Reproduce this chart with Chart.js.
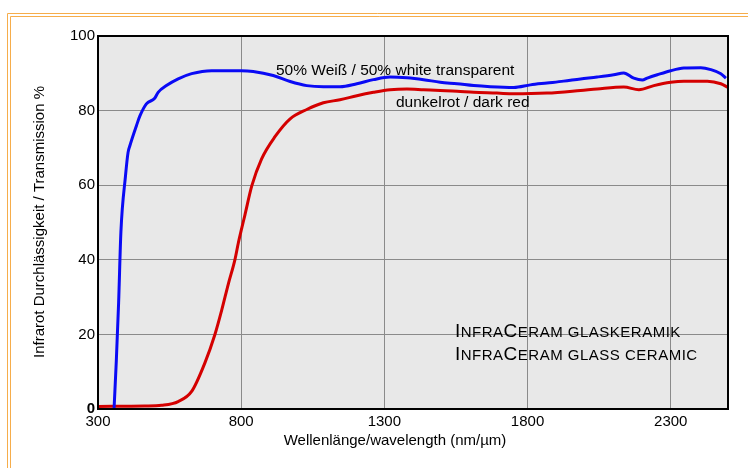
<!DOCTYPE html>
<html>
<head>
<meta charset="utf-8">
<script src="https://cdn.jsdelivr.net/npm/chart.js@4.4.1/dist/chart.umd.min.js"></script>
<style>
  html, body { margin: 0; padding: 0; background: #fff; }
  #wrap { width: 748px; height: 468px; }
</style>
</head>
<body>
<div id="wrap"><canvas id="chart" width="748" height="468"></canvas></div>
<script>
// Curves (wavelength nm, transmission %)
const whiteNm = [356, 364, 372, 380, 396, 405, 411, 434, 446, 469, 498, 510, 539, 580, 627, 697, 800, 842, 912, 971,
  1029, 1087, 1145, 1204, 1262, 1320, 1379, 1437, 1495, 1554, 1612, 1670, 1752, 1810, 1868, 1926, 1985, 2043, 2101,
  2136, 2171, 2201, 2218, 2253, 2300, 2346, 2405, 2440, 2475, 2493];
const whiteT = [0, 13, 28.5, 47.5, 62.5, 68.8, 70.5, 75.9, 78.5, 81.8, 83.3, 84.9, 86.7, 88.5, 89.9, 90.7, 90.7, 90.5, 89.4, 87.8,
  86.7, 86.4, 86.4, 87.2, 88.3, 89.0, 88.8, 88.3, 87.6, 87.2, 86.7, 86.4, 86.2, 86.9, 87.4, 87.9, 88.5, 89.0, 89.6,
  90.1, 88.7, 88.2, 88.7, 89.6, 90.7, 91.4, 91.5, 91.0, 89.9, 88.7];

const redNm = [300, 463, 522, 580, 627, 673, 708, 732, 755, 778, 790, 802, 813, 837, 871, 918, 971, 1029, 1087, 1145,
  1204, 1262, 1320, 1379, 1437, 1495, 1554, 1612, 1693, 1752, 1868, 1985, 2043, 2136, 2189, 2241, 2300, 2346, 2428,
  2475, 2500];
const redT = [0.7, 0.8, 1.0, 2.0, 4.7, 12.3, 19.9, 26.5, 33.5, 40.0, 44.5, 48.5, 52.0, 59.8, 67.0, 73.0, 77.8, 80.3, 82.1, 82.9,
  84.0, 84.9, 85.6, 85.8, 85.6, 85.4, 85.2, 84.9, 84.7, 84.5, 84.7, 85.4, 85.8, 86.3, 85.6, 86.7, 87.6, 87.9, 87.9,
  87.2, 86.2];

const xTicks = [300, 800, 1300, 1800, 2300];
const yTicks = [0, 20, 40, 60, 80, 100];

const whiteLabel = '50% Weiß / 50% white transparent';
const redLabel = 'dunkelrot / dark red';
const infoLines = ['InfraCeram glaskeramik', 'InfraCeram glass ceramic'];
const xTitle = 'Wellenlänge/wavelength (nm/µm)';
const yTitle = 'Infrarot Durchlässigkeit / Transmission %';

const FONT = "'Liberation Sans', Arial, sans-serif";

function toPoints(xs, ys) {
  return xs.map((x, i) => ({ x: x, y: ys[i] }));
}

// fake small caps: real capitals big, the rest upper-cased and smaller
function drawSmallCaps(ctx, str, x, y, big, small) {
  let cx = x;
  for (const ch of str) {
    const isCap = ch !== ' ' && ch === ch.toUpperCase();
    ctx.font = (isCap ? big : small) + 'px ' + FONT;
    const c = ch.toUpperCase();
    ctx.fillText(c, cx, y);
    cx += ctx.measureText(c).width + 0.5;
  }
}

const decor = {
  id: 'decor',
  beforeDraw(chart) {
    const { ctx, chartArea: a } = chart;
    ctx.save();
    ctx.fillStyle = '#e8e8e8';
    ctx.fillRect(a.left, a.top, a.right - a.left, a.bottom - a.top);
    ctx.restore();
  },
  afterDraw(chart) {
    const { ctx, chartArea: a } = chart;
    ctx.save();
    // plot frame
    ctx.strokeStyle = '#000';
    ctx.lineWidth = 2;
    ctx.strokeRect(a.left, a.top, a.right - a.left, a.bottom - a.top);

    // orange page frame
    ctx.strokeStyle = '#f6ad4b';
    ctx.lineWidth = 1;
    ctx.beginPath();
    ctx.moveTo(7.5, 468); ctx.lineTo(7.5, 13.5); ctx.lineTo(748, 13.5);
    ctx.moveTo(10.5, 468); ctx.lineTo(10.5, 16.5); ctx.lineTo(748, 16.5);
    ctx.stroke();

    ctx.fillStyle = '#000';
    ctx.textBaseline = 'alphabetic';
    ctx.textAlign = 'left';
    ctx.font = '15.5px ' + FONT;
    ctx.fillText(whiteLabel, 276, 75);
    ctx.fillText(redLabel, 396, 107);

    drawSmallCaps(ctx, infoLines[0], 455, 337, 19, 15);
    drawSmallCaps(ctx, infoLines[1], 455, 360, 19, 15);

    // axis titles
    ctx.font = '15px ' + FONT;
    ctx.textAlign = 'center';
    ctx.textBaseline = 'middle';
    ctx.fillText(xTitle, 395, 441);
    ctx.translate(40, 222);
    ctx.rotate(-Math.PI / 2);
    ctx.fillText(yTitle, 0, 0);
    ctx.restore();
  }
};

new Chart(document.getElementById('chart'), {
  type: 'line',
  data: {
    datasets: [{
      label: whiteLabel,
      data: toPoints(whiteNm, whiteT),
      borderColor: '#0a0af5',
      borderWidth: 3,
      pointRadius: 0,
      cubicInterpolationMode: 'monotone',
      fill: false
    }, {
      label: redLabel,
      data: toPoints(redNm, redT),
      borderColor: '#d40000',
      borderWidth: 3,
      pointRadius: 0,
      cubicInterpolationMode: 'monotone',
      fill: false
    }]
  },
  options: {
    responsive: false,
    animation: false,
    layout: { padding: { left: 0, right: 20, top: 36, bottom: 0 } },
    plugins: { legend: { display: false }, tooltip: { enabled: false } },
    scales: {
      x: {
        type: 'linear',
        min: 300,
        max: 2500,
        afterBuildTicks: s => { s.ticks = xTicks.map(v => ({ value: v })); },
        afterFit: s => { s.height = 59; },
        border: { display: false },
        grid: { color: '#8a8a8a', lineWidth: 1, drawTicks: false },
        ticks: {
          color: '#000', padding: 4, maxRotation: 0, autoSkip: false,
          font: { family: FONT, size: 15 },
          callback: v => String(v)
        }
      },
      y: {
        min: 0,
        max: 100,
        afterBuildTicks: s => { s.ticks = yTicks.map(v => ({ value: v })); },
        afterFit: s => { s.width = 98; },
        border: { display: false },
        grid: { color: '#8a8a8a', lineWidth: 1, drawTicks: false },
        ticks: {
          color: '#000', padding: 3,
          font: c => ({ family: FONT, size: 15, weight: c.tick && c.tick.value === 0 ? 'bold' : 'normal' })
        }
      }
    }
  },
  plugins: [decor]
});
</script>
</body>
</html>
